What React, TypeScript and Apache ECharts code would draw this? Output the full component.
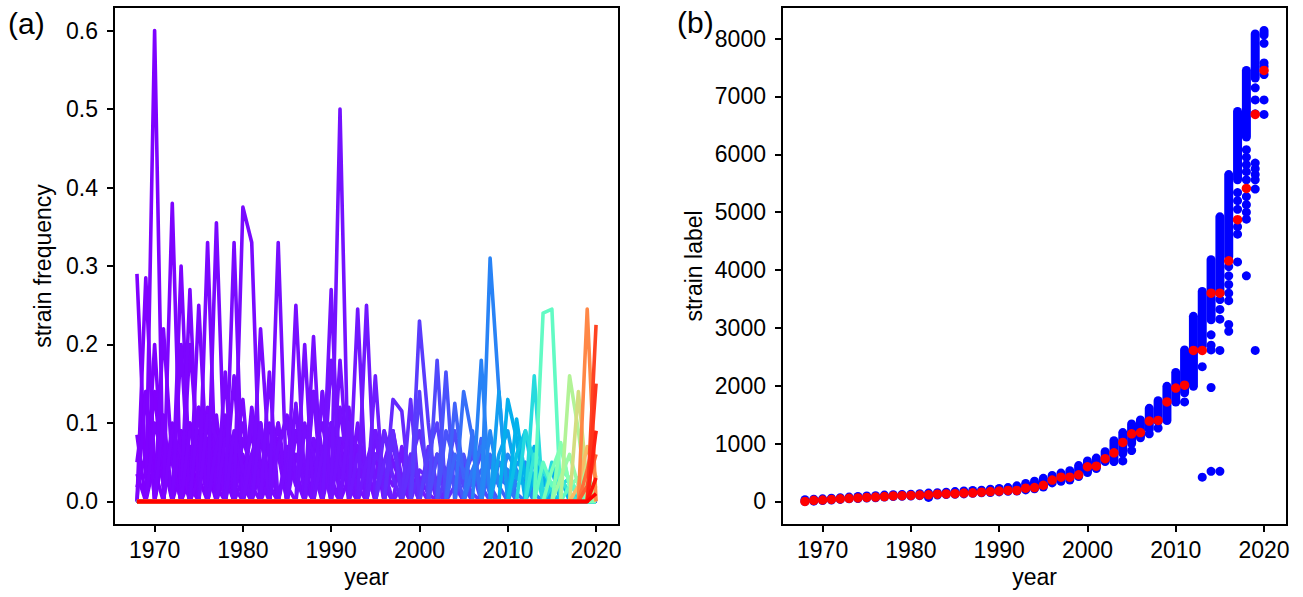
import React, { useEffect, useRef } from "react";
import * as echarts from "echarts";

// ---------- data ----------
const years: number[] = [];
for (let y = 1968; y <= 2020; y++) years.push(y);

const yearTicks = [1970, 1980, 1990, 2000, 2010, 2020];
const freqTicks = [0, 0.1, 0.2, 0.3, 0.4, 0.5, 0.6];
const labelTicks = [0, 1000, 2000, 3000, 4000, 5000, 6000, 7000, 8000];

// strain frequency panel: [strain label, first year, yearly frequencies from first year]
const earlyStrains: [number, number, number[]][] = [
  [0, 1968, [0.29, 0.03, 0.14, 0.02, 0.06, 0, 0.03]],
  [2, 1968, [0.085, 0, 0.05, 0.09, 0, 0.04]],
  [4, 1968, [0.05, 0.14, 0, 0.06, 0.02, 0.08]],
  [6, 1968, [0.035, 0, 0.2, 0.02, 0.09, 0, 0.05]],
  [8, 1968, [0.018, 0.06, 0.03, 0.1, 0, 0.07]],
  [15, 1969, [0.285, 0.04, 0, 0.09, 0.05, 0.02]],
  [20, 1969, [0.14, 0, 0.08, 0.05, 0, 0.1, 0.03]],
  [25, 1970, [0.6, 0, 0.1, 0.04, 0.07, 0]],
  [28, 1970, [0.1, 0.05, 0, 0.09, 0.02, 0.06, 0.04]],
  [33, 1971, [0.22, 0.05, 0, 0.1, 0.03, 0.08]],
  [36, 1971, [0.11, 0, 0.09, 0, 0.04, 0.1, 0.02]],
  [42, 1972, [0.38, 0, 0.2, 0.05, 0.08, 0, 0.04]],
  [46, 1972, [0.09, 0.06, 0, 0.03, 0.11, 0.05]],
  [52, 1973, [0.3, 0.02, 0.09, 0, 0.06, 0.03]],
  [55, 1973, [0.2, 0, 0.12, 0.07, 0, 0.09, 0.02]],
  [60, 1974, [0.27, 0, 0.12, 0, 0.05, 0.08, 0.03]],
  [63, 1974, [0.09, 0.07, 0, 0.1, 0.04, 0]],
  [66, 1975, [0.25, 0.03, 0.11, 0, 0.07, 0.02]],
  [70, 1975, [0.12, 0, 0.05, 0.1, 0.03, 0.06]],
  [74, 1976, [0.33, 0, 0.1, 0.07, 0, 0.04, 0.09]],
  [78, 1976, [0.11, 0.08, 0, 0.05, 0.1, 0.02]],
  [82, 1977, [0.355, 0.02, 0.16, 0, 0.06, 0.03]],
  [85, 1977, [0.07, 0.11, 0, 0.03, 0.09, 0, 0.05]],
  [92, 1978, [0.165, 0, 0.08, 0.04, 0.1, 0.02]],
  [95, 1978, [0.08, 0.05, 0.13, 0, 0.04, 0.07]],
  [98, 1979, [0.33, 0, 0.12, 0.05, 0, 0.08]],
  [100, 1979, [0.09, 0.04, 0, 0.08, 0.03, 0.1, 0.02]],
  [104, 1980, [0.375, 0.33, 0, 0.03, 0.07, 0]],
  [108, 1981, [0.11, 0, 0.1, 0.06, 0, 0.09, 0.03]],
  [111, 1981, [0.06, 0.1, 0.02, 0, 0.07, 0.04]],
  [114, 1982, [0.22, 0.05, 0.1, 0, 0.06, 0.02]],
  [118, 1982, [0.1, 0, 0.07, 0.11, 0.03, 0.05]],
  [122, 1983, [0.165, 0, 0.06, 0.02, 0.1, 0.04]],
  [128, 1984, [0.33, 0, 0.09, 0.04, 0, 0.07, 0.02]],
  [131, 1984, [0.07, 0.1, 0.03, 0, 0.08, 0.05]],
  [134, 1985, [0.05, 0.12, 0, 0.06, 0.1, 0.03]],
  [142, 1986, [0.25, 0.02, 0.14, 0, 0.05, 0.08]],
  [145, 1986, [0.125, 0, 0.08, 0.04, 0.1, 0, 0.03]],
  [148, 1987, [0.2, 0, 0.14, 0.03, 0.07, 0.02]],
  [152, 1987, [0.09, 0.06, 0, 0.1, 0.04, 0.08]],
  [156, 1988, [0.21, 0, 0.09, 0.05, 0.12, 0.02]],
  [158, 1988, [0.14, 0.06, 0, 0.12, 0.03, 0.07]],
  [166, 1989, [0.14, 0, 0.18, 0.02, 0.09, 0.04]],
  [170, 1989, [0.06, 0.1, 0.03, 0.08, 0, 0.05]],
  [176, 1990, [0.27, 0, 0.08, 0.07, 0.03, 0.09]],
  [180, 1990, [0.18, 0.05, 0.02, 0.1, 0, 0.06]],
  [186, 1991, [0.5, 0, 0.04, 0.02, 0.08, 0.03]],
  [188, 1991, [0.08, 0.08, 0.07, 0, 0.06, 0.02]],
  [190, 1992, [0.1, 0, 0.04, 0.03, 0.09, 0.05, 0.02]],
];

const midStrains: [number, number, number[]][] = [
  [228, 1993, [0.245, 0, 0.09, 0.04, 0.02, 0.06]],
  [232, 1993, [0.06, 0.03, 0.09, 0, 0.05, 0.03]],
  [240, 1994, [0.25, 0, 0.05, 0.09, 0.02, 0.04]],
  [250, 1994, [0.05, 0.09, 0.02, 0, 0.07, 0.03]],
  [280, 1995, [0.16, 0, 0.09, 0.03, 0.05, 0.02]],
  [300, 1995, [0.06, 0.04, 0, 0.02, 0.06, 0.03, 0.01]],
  [370, 1996, [0.09, 0.03, 0, 0.05, 0.02, 0.04]],
  [390, 1996, [0.05, 0.07, 0.02, 0.03, 0, 0.05]],
  [420, 1997, [0.13, 0.115, 0, 0.04, 0.03, 0.02]],
  [430, 1997, [0.09, 0, 0.06, 0.02, 0.05, 0.01]],
  [460, 1999, [0.13, 0, 0.07, 0.02, 0.04, 0.03]],
  [470, 1999, [0.05, 0.09, 0.03, 0.06, 0, 0.02]],
  [600, 2000, [0.23, 0.1, 0, 0.03, 0.05, 0.02]],
  [620, 2000, [0.14, 0, 0.06, 0.04, 0.02, 0.05]],
  [640, 2001, [0.06, 0.1, 0.02, 0.05, 0.03, 0.01]],
  [740, 2002, [0.18, 0, 0.05, 0.03, 0.06, 0.02]],
  [760, 2002, [0.06, 0.03, 0.09, 0.02, 0.04]],
  [840, 2003, [0.165, 0, 0.06, 0.02, 0.04, 0.01]],
  [860, 2003, [0.09, 0.05, 0, 0.03, 0.06, 0.02]],
  [1020, 2004, [0.125, 0.03, 0.07, 0, 0.05, 0.02]],
  [1050, 2004, [0.06, 0.04, 0.02, 0.08, 0.01]],
  [1170, 2005, [0.14, 0.08, 0, 0.05, 0.03, 0.02]],
  [1190, 2006, [0.09, 0, 0.06, 0.02, 0.04, 0.01]],
  [1230, 2006, [0.04, 0.07, 0.02, 0.05, 0.03]],
  [1390, 2007, [0.18, 0, 0.05, 0.04, 0.02, 0.03]],
  [1400, 2008, [0.31, 0.14, 0, 0.03, 0.05, 0.01]],
  [1450, 2008, [0.09, 0.02, 0.06, 0.04, 0.02]],
  [1720, 2009, [0.14, 0, 0.05, 0.04, 0.02, 0.03]],
  [1780, 2009, [0.06, 0.09, 0.03, 0.02, 0.05, 0.01]],
  [1960, 2010, [0.13, 0.08, 0, 0.03, 0.02, 0.04]],
  [2010, 2011, [0.105, 0.03, 0.07, 0, 0.02, 0.03]],
  [2200, 2011, [0.06, 0.09, 0.02, 0.04, 0.01]],
  [2610, 2012, [0.09, 0.05, 0, 0.02, 0.03, 0.01]],
];

const lateStrains: [number, number, number[]][] = [
  [2650, 2013, [0.16, 0, 0.05, 0.02, 0.03]],
  [2900, 2013, [0.06, 0.04, 0.02, 0.03, 0.01]],
  [3600, 2014, [0.24, 0.245, 0, 0.02, 0.01]],
  [3650, 2014, [0.05, 0.02, 0.04, 0.03, 0.01]],
  [4000, 2015, [0.04, 0.07, 0.02, 0.03]],
  [4160, 2016, [0.075, 0.02, 0.03, 0.01]],
  [4500, 2016, [0.03, 0.06, 0.02, 0.04]],
  [4870, 2017, [0.16, 0.09, 0, 0.02]],
  [5410, 2018, [0.14, 0.02, 0]],
  [6000, 2018, [0.02, 0.07, 0.03]],
  [6690, 2019, [0.245, 0]],
  [7000, 2019, [0.04, 0.09]],
  [7200, 2019, [0.02, 0.06]],
  [7450, 2020, [0.225]],
  [7600, 2020, [0.15]],
  [7800, 2020, [0.09]],
  [7950, 2020, [0.03]],
  [8140, 2020, [0.01]],
];

// strain label panel
const newStrainLabel = [
  0, 20, 25, 35, 45, 55, 60, 70, 75, 85, 95, 100, 105, 110, 115, 125, 130, 135, 145, 150,
  160, 170, 180, 190, 190, 230, 240, 280, 370, 420, 420, 460, 600, 610, 740, 840, 1020, 1170,
  1190, 1390, 1400, 1720, 1960, 2010, 2610, 2610, 3600, 3600, 4160, 4870, 5410, 6690, 7450,
];

// circulating strain labels per year: [year, lowest, highest] of the dense column
const labelRanges: [number, number, number][] = [
  [1968, 0, 30], [1969, 5, 40], [1970, 15, 45], [1971, 25, 55], [1972, 35, 65],
  [1973, 45, 75], [1974, 50, 85], [1975, 60, 95], [1976, 65, 100], [1977, 75, 110],
  [1978, 85, 115], [1979, 90, 120], [1980, 95, 125], [1981, 100, 135], [1982, 105, 145],
  [1983, 110, 150], [1984, 120, 160], [1985, 125, 170], [1986, 130, 180], [1987, 140, 190],
  [1988, 150, 195], [1989, 155, 210], [1990, 165, 225], [1991, 175, 240], [1992, 180, 270],
  [1993, 200, 310], [1994, 220, 350], [1995, 250, 400], [1996, 320, 450], [1997, 350, 490],
  [1998, 370, 530], [1999, 430, 620], [2000, 500, 700], [2001, 570, 750], [2002, 690, 860],
  [2003, 720, 1050], [2004, 830, 1190], [2005, 1000, 1340], [2006, 1100, 1410], [2007, 1250, 1610],
  [2008, 1380, 1740], [2009, 1400, 1990], [2010, 1720, 2230], [2011, 1880, 2620], [2012, 1990, 3200],
  [2013, 2680, 3630], [2014, 3140, 4180], [2015, 3610, 4920], [2016, 4230, 5650], [2017, 5560, 6740],
  [2018, 6300, 7450], [2019, 7320, 8080], [2020, 8060, 8140],
];

// isolated circulating strain labels: [year, label]
const labelOutliers: [number, number][] = [
  [1982, 70], [2003, 690], [2004, 700], [2005, 880], [2007, 1170], [2008, 1270], [2011, 1720],
  [2013, 2330], [2013, 420],
  [2014, 2880], [2014, 2700], [2014, 2620], [2014, 1970], [2014, 520],
  [2015, 3490], [2015, 3320], [2015, 3150], [2015, 2610], [2015, 520],
  [2016, 4060], [2016, 3900], [2016, 3750], [2016, 3600], [2016, 3470], [2016, 3060], [2016, 2940],
  [2017, 5340], [2017, 5200], [2017, 5050], [2017, 4750], [2017, 4620], [2017, 4140],
  [2018, 6080], [2018, 5950], [2018, 5820], [2018, 5700], [2018, 5560], [2018, 5270], [2018, 5130],
  [2018, 5000], [2018, 4880], [2018, 3900],
  [2019, 7150], [2019, 6940], [2019, 6700], [2019, 5850], [2019, 5750], [2019, 5650], [2019, 5560],
  [2019, 5400], [2019, 2610],
  [2020, 7920], [2020, 7580], [2020, 7520], [2020, 7380], [2020, 6940], [2020, 6690],
];

// ---------- helpers ----------
const FONT = '"Liberation Sans", Arial, Helvetica, sans-serif';
const maxLabel = 8140;

function rainbow(t: number): string {
  const r = Math.min(1, Math.abs(2 * t - 0.5));
  const g = Math.max(0, Math.sin(Math.PI * t));
  const b = Math.max(0, Math.cos((Math.PI * t) / 2));
  return `rgb(${Math.round(r * 255)},${Math.round(g * 255)},${Math.round(b * 255)})`;
}

const textStyle = { color: "#000", fontSize: 23, fontFamily: FONT };

function makeXAxis(gridIndex: number) {
  return {
    gridIndex,
    type: "value",
    min: 1965.4,
    max: 2022.6,
    splitLine: { show: false },
    axisLine: { show: true, onZero: false, lineStyle: { color: "#000", width: 2 } },
    axisTick: { show: true, length: 7, lineStyle: { color: "#000", width: 2 }, customValues: yearTicks },
    axisLabel: { ...textStyle, margin: 13, customValues: yearTicks, formatter: (v: number) => String(v) },
    name: "year",
    nameLocation: "middle",
    nameGap: 38,
    nameTextStyle: textStyle,
  };
}

export default function App() {
  const ref = useRef<HTMLDivElement>(null);
  useEffect(() => {
    if (!ref.current) return;
    const chart = echarts.init(ref.current, null, { renderer: "svg" });
    const allStrains = [...earlyStrains, ...midStrains, ...lateStrains];
    const lineSeries = allStrains.map(([label, start, freqs]) => ({
      type: "line",
      xAxisIndex: 0,
      yAxisIndex: 0,
      showSymbol: false,
      symbol: "none",
      silent: true,
      lineStyle: { width: 3.6, color: rainbow(label / maxLabel), join: "round", cap: "butt" },
      data: years.map((y) => {
        const i = y - start;
        return [y, i >= 0 && i < freqs.length ? freqs[i] : 0];
      }),
    }));

    const option: any = {
      animation: false,
      backgroundColor: "#fff",
      grid: [
        { left: 114, top: 7, width: 505, height: 518, show: true, borderColor: "#000", borderWidth: 2, backgroundColor: "transparent" },
        { left: 782, top: 7, width: 505, height: 518, show: true, borderColor: "#000", borderWidth: 2, backgroundColor: "transparent" },
      ],
      xAxis: [makeXAxis(0), makeXAxis(1)],
      yAxis: [
        {
          gridIndex: 0,
          type: "value",
          min: -0.03,
          max: 0.63,
          splitLine: { show: false },
          axisLine: { show: true, onZero: false, lineStyle: { color: "#000", width: 2 } },
          axisTick: { show: true, length: 7, lineStyle: { color: "#000", width: 2 }, customValues: freqTicks },
          axisLabel: { ...textStyle, margin: 16, customValues: freqTicks, formatter: (v: number) => v.toFixed(1) },
          name: "strain frequency",
          nameLocation: "middle",
          nameGap: 60,
          nameTextStyle: textStyle,
        },
        {
          gridIndex: 1,
          type: "value",
          min: -407,
          max: 8547,
          splitLine: { show: false },
          axisLine: { show: true, onZero: false, lineStyle: { color: "#000", width: 2 } },
          axisTick: { show: true, length: 7, lineStyle: { color: "#000", width: 2 }, customValues: labelTicks },
          axisLabel: { ...textStyle, margin: 16, customValues: labelTicks, formatter: (v: number) => String(v) },
          name: "strain label",
          nameLocation: "middle",
          nameGap: 77,
          nameTextStyle: textStyle,
        },
      ],
      series: [
        ...lineSeries,
        {
          type: "custom",
          xAxisIndex: 1,
          yAxisIndex: 1,
          silent: true,
          encode: { x: 0, y: [1, 2] },
          data: labelRanges,
          renderItem: (_p: any, api: any) => {
            const x = api.value(0);
            const top = api.coord([x, api.value(2)]);
            const bot = api.coord([x, api.value(1)]);
            return {
              type: "rect",
              shape: { x: top[0] - 4.5, y: top[1] - 4.5, width: 9, height: bot[1] - top[1] + 9, r: 4.5 },
              style: { fill: "#0000ff" },
            };
          },
        },
        {
          type: "scatter",
          xAxisIndex: 1,
          yAxisIndex: 1,
          silent: true,
          symbolSize: 9,
          itemStyle: { color: "#0000ff", opacity: 1 },
          data: labelOutliers,
        },
        {
          type: "scatter",
          xAxisIndex: 1,
          yAxisIndex: 1,
          silent: true,
          symbolSize: 9.5,
          itemStyle: { color: "#ff0000", opacity: 1 },
          z: 5,
          data: years.map((y, i) => [y, newStrainLabel[i]]),
        },
      ],
      graphic: [
        { type: "text", left: 8, top: 8, style: { text: "(a)", fill: "#000", font: `30px ${FONT}` } },
        { type: "text", left: 677, top: 7, style: { text: "(b)", fill: "#000", font: `30px ${FONT}` } },
      ],
    };
    chart.setOption(option);
    return () => chart.dispose();
  }, []);
  return (
    <div
      ref={ref}
      style={{ position: "fixed", left: 0, top: 0, width: 1303, height: 597, background: "#fff" }}
    />
  );
}
